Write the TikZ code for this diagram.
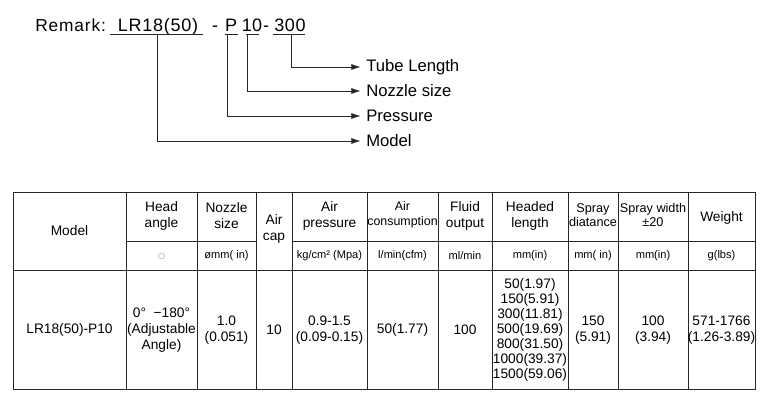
\documentclass[tikz,border=0pt]{standalone}
\usepackage{fontspec}
\setmainfont{Liberation Sans}
\newfontfamily\dejavu{DejaVu Sans}
\usetikzlibrary{arrows.meta}
\begin{document}
\begin{tikzpicture}[x=0.75pt,y=-0.75pt,
  ln/.style={line width=0.6pt,black!85},
  arr/.style={ln,-{Latex[length=7pt,width=4.5pt]}},
  lab/.style={anchor=west,font=\fontsize{12.5}{14}\selectfont,inner sep=0pt},
  rm/.style={anchor=base,inner sep=0pt,font=\fontsize{13.5}{14}\selectfont},
  cell/.style={align=center,font=\fontsize{10.3}{12}\selectfont,inner sep=0pt},
  unit/.style={align=center,font=\fontsize{8.3}{9}\selectfont,inner sep=0pt}]
\useasboundingbox (0,0) rectangle (762,414);
% remark
\node[rm,anchor=base west,font=\fontsize{13}{14}\selectfont\addfontfeatures{LetterSpace=5}] (rem) at (35,31) {Remark:};
\node[rm,font=\fontsize{13.5}{14}\selectfont\addfontfeatures{LetterSpace=4}] (r1) at (158,31) {LR18(50)\hspace{-2pt}};
\node[rm] (r2) at (215,31) {-};
\node[rm] (r3) at (231,31) {P};
\node[rm] (r4) at (252,31) {10};
\node[rm] (r5) at (266,31) {-};
\node[rm,font=\fontsize{13.5}{14}\selectfont\addfontfeatures{LetterSpace=3}] (r6) at (290,31) {300\hspace{-1pt}};
\coordinate (u1) at (157,34); \coordinate (u2) at (227,34);
\coordinate (u3) at (247,34); \coordinate (u4) at (291,34);
\draw[ln] (110,34) -- (203,34) (225,34) -- (238,34) (246,34) -- (259,34) (273,34) -- (305,34);
\node[lab] (tl) at (366,67) {Tube Length};
\node[lab] (ns) at (366,91) {Nozzle size};
\node[lab] (pr) at (366,116) {Pressure};
\node[lab] (md) at (366,141) {Model};
\draw[arr] (u4) |- ([xshift=-4pt]tl.west);
\draw[arr] (u3) |- ([xshift=-4pt]ns.west);
\draw[arr] (u2) |- ([xshift=-4pt]pr.west);
\draw[arr] (u1) |- ([xshift=-4pt]md.west);
% table
\draw[ln] (13,192) rectangle (755,389);
\draw[ln] (13,270) -- (755,270);
\draw[ln] (126,241) -- (256,241) (292,241) -- (755,241);
\foreach \x in {126,197,256,292,367,438,492,568,618,688} \draw[ln] (\x,192) -- (\x,389);
\node[cell] (h1) at (69.5,231) {Model};
\node[cell] (h2) at (161.5,216) {Head\\angle};
\node[cell] (h3) at (226.5,216) {Nozzle\\size};
\node[cell] (h4) at (274,229) {Air\\cap};
\node[cell] (h5) at (329.5,216) {Air\\pressure};
\node[cell,font=\fontsize{9.3}{11}\selectfont] (h6) at (402.5,215) {Air\\consumption};
\node[cell] (h7) at (465,216) {Fluid\\output};
\node[cell] (h8) at (530,216) {Headed\\length};
\node[cell,font=\fontsize{9.5}{11}\selectfont] (h9) at (593,215) {Spray\\diatance};
\node[cell,font=\fontsize{9.5}{11}\selectfont] (h10) at (653,215) {Spray width\\±20};
\node[cell] (h11) at (721.5,218) {Weight};
\node[unit,text=black!50,font=\dejavu\fontsize{6}{7}\selectfont] (v2) at (161.5,256) {○};
\node[unit] (v3) at (226.5,256) {ømm( in)};
\node[unit] (v5) at (329.5,256) {kg/cm² (Mpa)};
\node[unit] (v6) at (402.5,256) {l/min(cfm)};
\node[unit] (v7) at (465,256) {ml/min};
\node[unit] (v8) at (530,256) {mm(in)};
\node[unit] (v9) at (593,256) {mm( in)};
\node[unit] (v10) at (653,256) {mm(in)};
\node[unit] (v11) at (721.5,256) {g(lbs)};
\node[cell] (d1) at (69.5,330) {LR18(50)-P10};
\node[cell] (d2) at (161.5,330) {0°\ \ −180°\\(Adjustable\\Angle)};
\node[cell] (d3) at (226.5,330) {1.0\\(0.051)};
\node[cell] (d4) at (274,330) {10};
\node[cell] (d5) at (329.5,330) {0.9-1.5\\(0.09-0.15)};
\node[cell] (d6) at (402.5,330) {50(1.77)};
\node[cell] (d7) at (465,330) {100};
\node[cell,font=\fontsize{10.3}{11.2}\selectfont] (d8) at (530,330) {50(1.97)\\150(5.91)\\300(11.81)\\500(19.69)\\800(31.50)\\1000(39.37)\\1500(59.06)};
\node[cell] (d9) at (593,330) {150\\(5.91)};
\node[cell] (d10) at (653,330) {100\\(3.94)};
\node[cell] (d11) at (721.5,330) {571-1766\\(1.26-3.89)};
\end{tikzpicture}
\end{document}
